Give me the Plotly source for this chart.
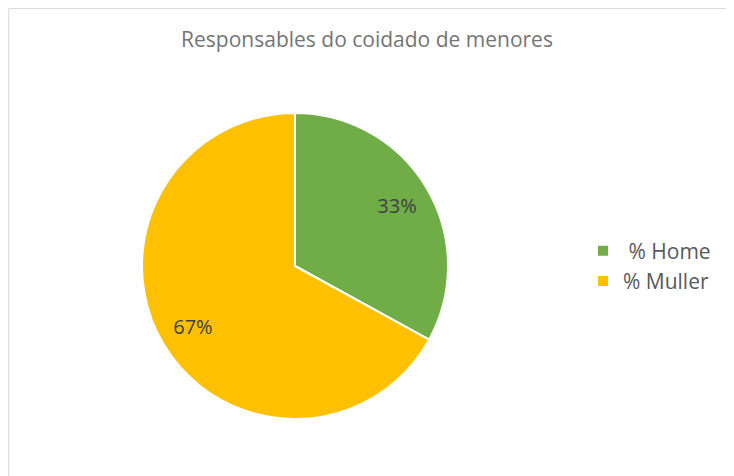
import plotly.graph_objects as go

labels = [" % Home", "% Muller"]
values = [33, 67]
colors = ["#70AD47", "#FFC000"]

# the page body has an 8px margin, so the figure is sized to fit the window
W, H = 726, 468
pie_domain = dict(x=[134 / W, 440 / W], y=[1 - 411 / H, 1 - 105 / H])

fig = go.Figure()

# filled slices
fig.add_trace(
    go.Pie(
        labels=labels,
        values=values,
        sort=False,
        direction="clockwise",
        rotation=0,
        marker=dict(colors=colors, line=dict(color="white", width=2)),
        textinfo="none",
        domain=pie_domain,
    )
)

# transparent ring on top, only to put the percentages further out
fig.add_trace(
    go.Pie(
        labels=labels,
        values=values,
        sort=False,
        direction="clockwise",
        rotation=0,
        hole=0.55,
        marker=dict(colors=["rgba(0,0,0,0)"] * len(values), line=dict(width=0)),
        textinfo="percent",
        textposition="inside",
        insidetextorientation="horizontal",
        textfont=dict(size=20, color="#404040", family="Open Sans"),
        showlegend=False,
        hoverinfo="skip",
        domain=pie_domain,
    )
)

fig.update_layout(
    width=W,
    height=H,
    margin=dict(l=0, r=0, t=0, b=0),
    paper_bgcolor="white",
    plot_bgcolor="white",
    font=dict(family="Open Sans", color="#595959"),
    title=dict(
        text="Responsables do coidado de menores",
        x=359 / W,
        xanchor="center",
        y=1 - 32 / H,
        yanchor="middle",
        font=dict(size=21, color="#757575", family="Open Sans"),
    ),
    legend=dict(
        x=0.792,
        y=1 - 258 / H,
        xanchor="left",
        yanchor="middle",
        font=dict(size=21, color="#595959"),
        itemsizing="constant",
    ),
    shapes=[
        dict(
            type="rect",
            xref="paper",
            yref="paper",
            x0=0.001,
            x1=723 / W,
            y0=-0.05,
            y1=0.999,
            line=dict(color="#D9D9D9", width=1),
        )
    ],
)

fig.write_html("out.html")
